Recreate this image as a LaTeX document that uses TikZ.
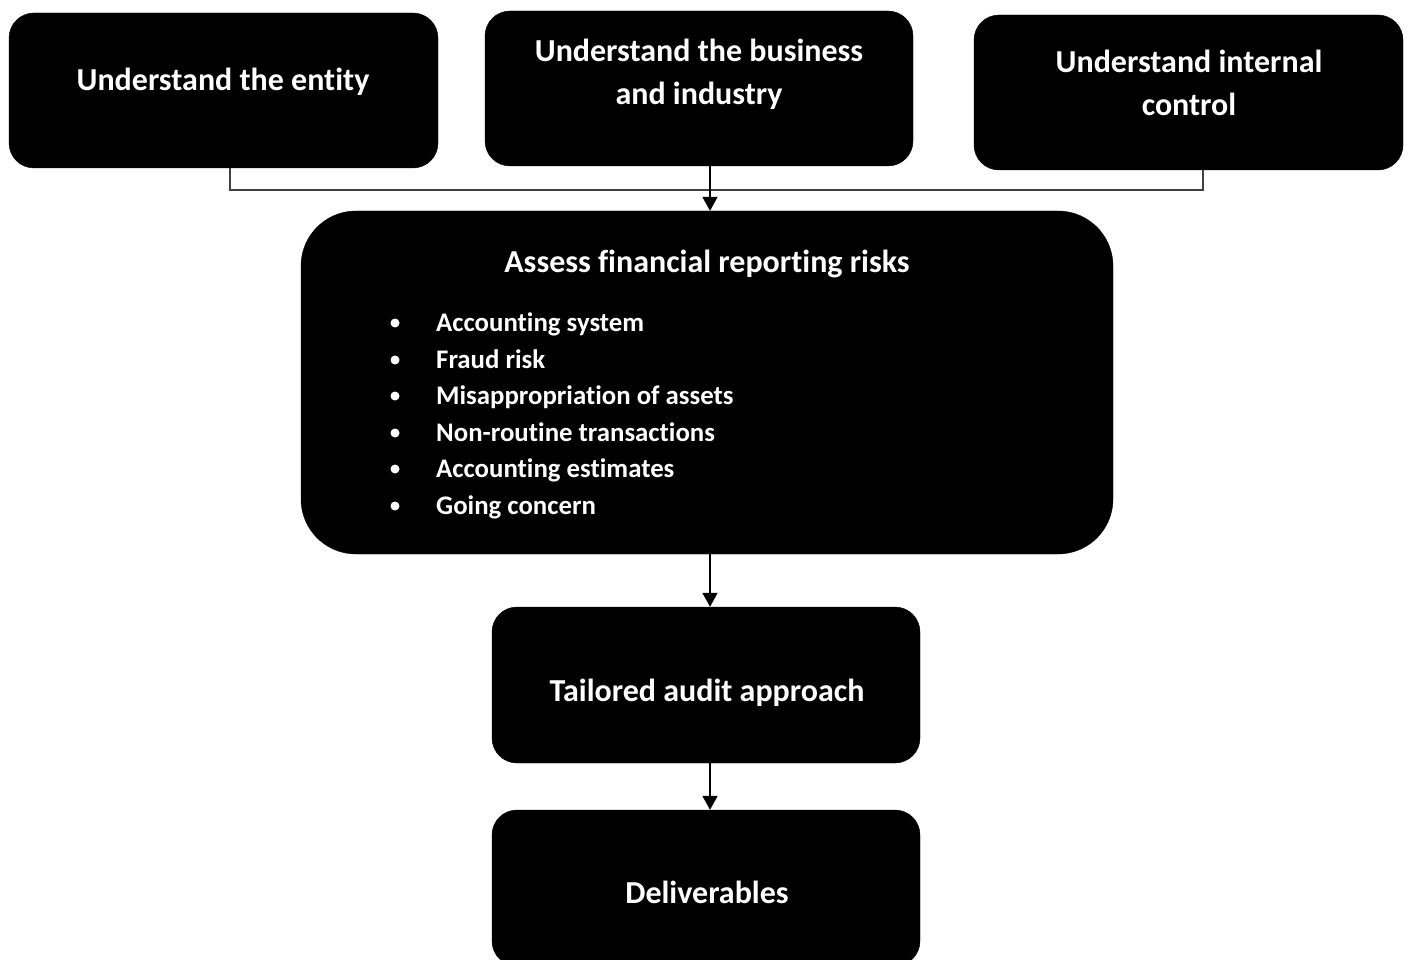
\documentclass[tikz,border=0pt]{standalone}
\usepackage{fontspec}
\setmainfont{Carlito}[Ligatures=NoCommon]
\usetikzlibrary{arrows.meta}
\begin{document}
\begin{tikzpicture}[x=1pt,y=-1pt,
  box/.style={fill=black, draw=black, rounded corners=25pt, inner sep=0pt},
  lbl/.style={text=white, font=\fontsize{32}{43}\selectfont\bfseries, align=center, inner sep=0pt},
  lbl1/.style={lbl, text height=22pt, text depth=7pt},
  item/.style={text=white, font=\fontsize{26.8}{32}\selectfont\bfseries, anchor=west, inner sep=0pt, text height=20pt, text depth=6pt},
  bul/.style={fill=white, circle, inner sep=0pt, minimum size=9pt},
  arr/.style={-{Triangle[length=14pt,width=15pt]}, line width=1.8pt},
  conn/.style={line width=1.1pt, draw=black!75}]
\useasboundingbox (0,0) rectangle (1409,960);

% boxes
\node[box, minimum width=429pt, minimum height=155pt] (entity) at (223.5,90.5) {};
\node[box, minimum width=428pt, minimum height=155pt] (business) at (699,88.5) {};
\node[box, minimum width=429pt, minimum height=155pt] (control) at (1188.5,92.5) {};
\node[box, rounded corners=55pt, minimum width=812pt, minimum height=343pt] (assess) at (707,382.5) {};
\node[box, minimum width=428pt, minimum height=156pt] (tailored) at (706,685) {};
\node[box, minimum width=428pt, minimum height=156pt] (deliv) at (706,888) {};

% texts
\node[lbl1] (tentity) at (223,83) {Understand the entity};
\node[lbl] (tbusiness) at (699,74) {Understand the business\\and industry};
\node[lbl] (tcontrol) at (1189,82.5) {Understand internal\\control};
\node[lbl1] (tassess) at (707,265) {Assess financial reporting risks};
\node[lbl1] (ttailored) at (707,694) {Tailored audit approach};
\node[lbl1] (tdeliv) at (707,896) {Deliverables};

\foreach \i/\y/\t in {1/324/Accounting system, 2/361/Fraud risk, 3/397/Misappropriation of assets, 4/434/Non-routine transactions, 5/470/Accounting estimates, 6/507/Going concern}{
  \node[bul] (b\i) at (395,\y-1) {};
  \node[item] (i\i) at (436,\y) {\t};
}

% connectors
\coordinate (ax) at (710,0);
\coordinate (jy) at (0,190);
\draw[conn] ([xshift=6.5pt]entity.south) -- ([xshift=6.5pt]entity.south |- jy)
  -- ([xshift=14.5pt]control.south |- jy) -- ([xshift=14.5pt]control.south);
\draw[arr] (business.south -| ax) -- (assess.north -| ax);
\draw[arr] (assess.south -| ax) -- (tailored.north -| ax);
\draw[arr] (tailored.south -| ax) -- (deliv.north -| ax);
\end{tikzpicture}
\end{document}
